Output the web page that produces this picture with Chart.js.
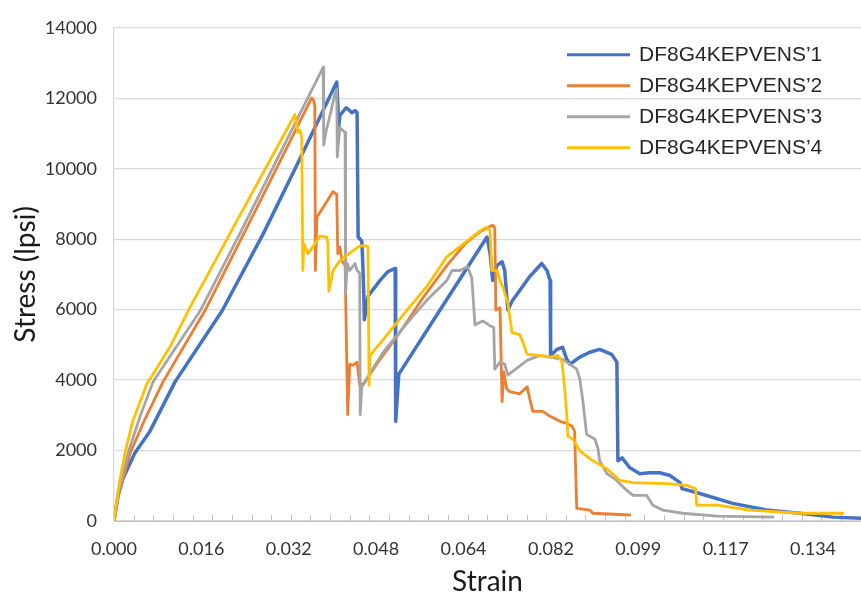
<!DOCTYPE html>
<html>
<head>
<meta charset="utf-8">
<script src="https://cdn.jsdelivr.net/npm/chart.js@4/dist/chart.umd.min.js"></script>
<style>
  html, body { margin: 0; padding: 0; background: #fff; }
</style>
</head>
<body>
<canvas id="stressChart" width="861" height="599"></canvas>
<script>
// strain tick labels (category-style axis, evenly spaced)
const xTickLabels = ["0.000", "0.016", "0.032", "0.048", "0.064", "0.082", "0.099", "0.117", "0.134"];
const xLabelStep = 0.01675;
const minorTickStep = 0.003766;
const xMax = 0.1432;

const seriesLabels = ["DF8G4KEPVENS\u20191", "DF8G4KEPVENS\u20192", "DF8G4KEPVENS\u20193", "DF8G4KEPVENS\u20194"];

// [strain, stress]
const specimen1 = [
	[0, 0], [0.0008, 730], [0.0017, 1200], [0.0040, 1930], [0.0069, 2550], [0.0117, 3950],
	[0.0207, 5960], [0.0286, 8150], [0.0357, 10300], [0.0427, 12460], [0.0431, 11230],
	[0.0433, 11510], [0.0445, 11730], [0.0448, 11700], [0.0456, 11590], [0.0462, 11650],
	[0.0466, 11590], [0.0468, 8060], [0.0475, 7950], [0.0477, 7310], [0.0479, 6380],
	[0.0480, 5710], [0.0487, 6380], [0.0510, 6830], [0.0525, 7080], [0.0539, 7170],
	[0.0540, 2830], [0.0546, 4170], [0.0625, 5990], [0.0715, 8060], [0.0721, 7590],
	[0.0726, 6830], [0.0734, 7250], [0.0744, 7360], [0.0749, 7110], [0.0755, 5990],
	[0.0763, 6240], [0.0797, 6940], [0.0820, 7310], [0.0830, 7110], [0.0836, 6830],
	[0.0837, 4700], [0.0849, 4870], [0.0860, 4930], [0.0868, 4590], [0.0874, 4450],
	[0.0893, 4650], [0.0912, 4790], [0.0931, 4870], [0.0954, 4730], [0.0964, 4510],
	[0.0966, 1710], [0.0974, 1790], [0.0989, 1510], [0.1008, 1340], [0.1027, 1370],
	[0.1046, 1370], [0.1066, 1290], [0.1085, 1090], [0.1089, 920], [0.1123, 780],
	[0.1186, 500], [0.1251, 310], [0.1315, 220], [0.1378, 110], [0.1432, 80]
];
const specimen2 = [
	[0, 0], [0.0008, 730], [0.0031, 1930], [0.0059, 2880], [0.0094, 3950], [0.0174, 5960],
	[0.0280, 9070], [0.0379, 12010], [0.0383, 11930], [0.0385, 11790], [0.0386, 7110],
	[0.0389, 8620], [0.0408, 9070], [0.0420, 9350], [0.0427, 9270], [0.0429, 7590],
	[0.0433, 7780], [0.0437, 7390], [0.0443, 7250], [0.0448, 3020], [0.0452, 4450],
	[0.0458, 4420], [0.0466, 4510], [0.0471, 3860], [0.0475, 3810], [0.0510, 4590],
	[0.0548, 5350], [0.0592, 6330], [0.0638, 7250], [0.0673, 7870], [0.0701, 8200],
	[0.0726, 8400], [0.0730, 8320], [0.0732, 5990], [0.0740, 6050], [0.0744, 3390],
	[0.0747, 4230], [0.0753, 3750], [0.0759, 3670], [0.0778, 3610], [0.0792, 3810],
	[0.0797, 3470], [0.0803, 3110], [0.0822, 3110], [0.0836, 2970], [0.0855, 2830],
	[0.0868, 2770], [0.0878, 2690], [0.0883, 2550], [0.0887, 360], [0.0912, 310],
	[0.0918, 220], [0.0989, 170]
];
const specimen3 = [
	[0, 0], [0.0008, 780], [0.0027, 1930], [0.0050, 2970], [0.0075, 3950], [0.0165, 5960],
	[0.0241, 8150], [0.0401, 12880], [0.0402, 10670], [0.0406, 11030], [0.0414, 11510],
	[0.0424, 12150], [0.0427, 12260], [0.0428, 10330], [0.0433, 11170], [0.0443, 11030],
	[0.0444, 6470], [0.0447, 7310], [0.0452, 7110], [0.0462, 7310], [0.0466, 7110],
	[0.0471, 7030], [0.0472, 3020], [0.0475, 3860], [0.0481, 3950], [0.0516, 4790],
	[0.0567, 5710], [0.0600, 6270], [0.0638, 6830], [0.0648, 7110], [0.0663, 7110],
	[0.0678, 7220], [0.0686, 6890], [0.0692, 5570], [0.0707, 5680], [0.0721, 5540],
	[0.0728, 5490], [0.0730, 4310], [0.0740, 4510], [0.0749, 4450], [0.0755, 4140],
	[0.0792, 4560], [0.0816, 4700], [0.0860, 4590], [0.0887, 4310], [0.0893, 4030],
	[0.0899, 3390], [0.0906, 2460], [0.0922, 2320], [0.0928, 2040], [0.0931, 1710],
	[0.0945, 1340], [0.0960, 1200], [0.0979, 920], [0.0995, 730], [0.1021, 730],
	[0.1033, 450], [0.1052, 310], [0.1090, 220], [0.1156, 140], [0.1263, 110]
];
const specimen4 = [
	[0, 0], [0.0004, 450], [0.0010, 1060], [0.0021, 1930], [0.0036, 2830], [0.0063, 3890],
	[0.0107, 4930], [0.0142, 5960], [0.0222, 8150], [0.0347, 11540], [0.0353, 11030],
	[0.0357, 11090], [0.0360, 10860], [0.0362, 7110], [0.0364, 7870], [0.0372, 7590],
	[0.0381, 7780], [0.0395, 8090], [0.0408, 8060], [0.0410, 7870], [0.0412, 6520],
	[0.0420, 7110], [0.0433, 7390], [0.0458, 7670], [0.0471, 7810], [0.0485, 7810],
	[0.0487, 7780], [0.0489, 3860], [0.0491, 4700], [0.0516, 5150], [0.0562, 5990],
	[0.0600, 6660], [0.0638, 7500], [0.0701, 8230], [0.0715, 8340], [0.0721, 8230],
	[0.0724, 7110], [0.0734, 7110], [0.0740, 6830], [0.0745, 6660], [0.0755, 6190],
	[0.0763, 5350], [0.0778, 5290], [0.0784, 5070], [0.0792, 4730], [0.0816, 4700],
	[0.0836, 4650], [0.0851, 4700], [0.0859, 4510], [0.0864, 3750], [0.0868, 3020],
	[0.0870, 2410], [0.0880, 2320], [0.0893, 1990], [0.0918, 1710], [0.0945, 1480],
	[0.0970, 1150], [0.0995, 1090], [0.1060, 1060], [0.1098, 1010], [0.1115, 920],
	[0.1117, 450], [0.1156, 450], [0.1219, 310], [0.1315, 220], [0.1397, 220]
];

function toPoints(rows) {
	return rows.map(function (r) { return { x: r[0], y: r[1] }; });
}

// small tick marks standing on the x axis
const minorTicks = {
	id: "minorTicks",
	beforeDatasetsDraw(chart) {
		const ctx = chart.ctx;
		const xs = chart.scales.x;
		const bottom = chart.chartArea.bottom;
		ctx.save();
		ctx.strokeStyle = "#bfbfbf";
		ctx.lineWidth = 1;
		ctx.beginPath();
		for (let v = 0; v <= xs.max; v += minorTickStep) {
			const px = Math.round(xs.getPixelForValue(v)) + 0.5;
			ctx.moveTo(px, bottom);
			ctx.lineTo(px, bottom - 6);
		}
		ctx.stroke();
		ctx.restore();
	}
};

// legend drawn inside the plot, top right
const insideLegend = {
	id: "insideLegend",
	afterDatasetsDraw(chart) {
		const ctx = chart.ctx;
		const area = chart.chartArea;
		ctx.save();
		ctx.font = "21px 'Liberation Sans', Arial, sans-serif";
		ctx.textBaseline = "middle";
		ctx.textAlign = "left";
		chart.data.datasets.forEach(function (ds, i) {
			const y = area.top + 27 + i * 31;
			const x = area.left + 453;
			ctx.strokeStyle = ds.borderColor;
			ctx.lineWidth = 3;
			ctx.beginPath();
			ctx.moveTo(x, y);
			ctx.lineTo(x + 63, y);
			ctx.stroke();
			ctx.fillStyle = "#262626";
			ctx.fillText(ds.label, x + 72, y);
		});
		ctx.restore();
	}
};

const tickFont = { family: "Lato, 'Open Sans', sans-serif", size: 18 };
const titleFont = { family: "Lato, 'Open Sans', sans-serif", size: 28 };

const ctxStress = document.getElementById("stressChart").getContext("2d");
const stressChart = new Chart(ctxStress, {
	type: "line",
	data: {
		datasets: [
			{ label: seriesLabels[0], data: toPoints(specimen1), borderColor: "#4472C4", borderWidth: 3.5, order: 4 },
			{ label: seriesLabels[1], data: toPoints(specimen2), borderColor: "#ED7D31", borderWidth: 2.8, order: 3 },
			{ label: seriesLabels[2], data: toPoints(specimen3), borderColor: "#A5A5A5", borderWidth: 2.8, order: 2 },
			{ label: seriesLabels[3], data: toPoints(specimen4), borderColor: "#FFC000", borderWidth: 2.8, order: 1 },
		],
	},
	options: {
		responsive: false,
		animation: false,
		layout: { padding: { top: 21, right: 0, bottom: 0, left: 0 } },
		elements: {
			point: { radius: 0 },
			line: { tension: 0, borderJoinStyle: "round", borderCapStyle: "round", fill: false },
		},
		plugins: {
			legend: { display: false },
			tooltip: { enabled: false },
		},
		scales: {
			x: {
				type: "linear",
				min: 0,
				max: xMax,
				afterBuildTicks: function (scale) {
					scale.ticks = xTickLabels.map(function (_, i) { return { value: i * xLabelStep }; });
				},
				ticks: {
					autoSkip: false,
					maxRotation: 0,
					padding: 17,
					color: "#333",
					font: tickFont,
					callback: function (value, index) { return xTickLabels[index]; },
				},
				grid: { display: false, drawTicks: false },
				border: { display: true, color: "#bfbfbf", width: 1 },
				title: { display: true, text: "Strain", color: "#1a1a1a", font: titleFont, padding: { top: 0, bottom: 0 } },
				afterFit: function (scale) { scale.height = 78; },
			},
			y: {
				min: 0,
				max: 14000,
				ticks: {
					stepSize: 2000,
					padding: 17,
					color: "#333",
					font: tickFont,
					callback: function (value) { return String(value); },
				},
				grid: { color: "#d9d9d9", lineWidth: 1.3, drawTicks: false },
				border: { display: true, color: "#d9d9d9", width: 1.3 },
				title: { display: true, text: "Stress (lpsi)", color: "#1a1a1a", font: titleFont, padding: { top: 9, bottom: 0 } },
				afterFit: function (scale) { scale.width = 114; },
			},
		},
	},
	plugins: [minorTicks, insideLegend],
});
</script>
</body>
</html>
